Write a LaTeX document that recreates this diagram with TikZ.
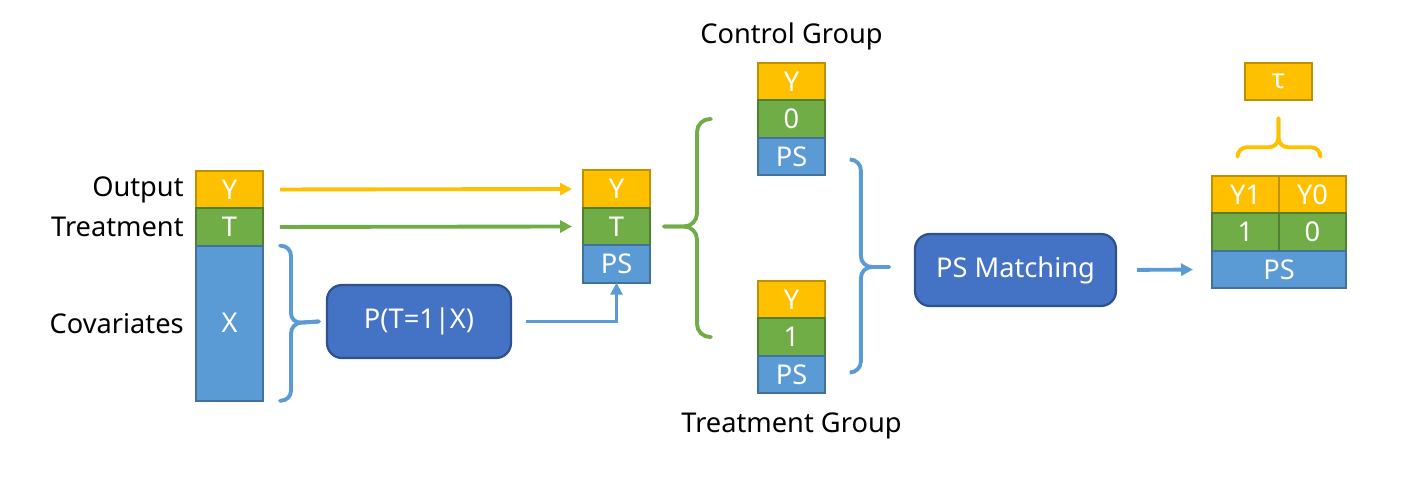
\documentclass[tikz,border=0pt]{standalone}
\usepackage{fontspec}
\setmainfont{Noto Sans}
\usetikzlibrary{arrows.meta, positioning, calc}
\definecolor{cellyellow}{HTML}{FFC000}
\definecolor{edgeyellow}{HTML}{BF9000}
\definecolor{cellgreen}{HTML}{70AD47}
\definecolor{edgegreen}{HTML}{507E32}
\definecolor{cellblue}{HTML}{5B9BD5}
\definecolor{edgeblue}{HTML}{41719C}
\definecolor{boxblue}{HTML}{4472C4}
\definecolor{boxedge}{HTML}{2F528F}

\tikzset{
  cell/.style={draw, line width=1.3pt, outer sep=0pt, inner sep=0pt, minimum width=1.34cm, minimum height=0.75cm, text=white, font=\fontsize{15.5}{18}\selectfont},
  ycell/.style={cell, fill=cellyellow, draw=edgeyellow},
  tcell/.style={cell, fill=cellgreen, draw=edgegreen},
  pcell/.style={cell, fill=cellblue, draw=edgeblue},
  procbox/.style={draw=boxedge, fill=boxblue, line width=1.3pt, rounded corners=0.3cm, inner sep=0pt, text=white, font=\fontsize{15.5}{18}\selectfont},
  sidelabel/.style={font=\fontsize{15.5}{18}\selectfont, inner sep=0pt},
  flow/.style={line width=2.2pt, -{Triangle[length=0.24cm, width=0.24cm]}},
  brace/.style={line width=2.2pt, line cap=round}
}

\begin{document}
\begin{tikzpicture}[x=0.02cm, y=-0.02cm]
  \useasboundingbox (0,0) rectangle (1414,502);

  % input table
  \node[ycell] (inY) at (229.5,189.5) {Y};
  \node[tcell, below=0pt of inY] (inT) {T};
  \node[pcell, below=0pt of inT, minimum height=3.1cm] (inX) {X};
  \node[sidelabel, left=0.24cm of inY] (lbOut) {Output};
  \node[sidelabel, left=0.24cm of inT] (lbTreat) {Treatment};
  \node[sidelabel, left=0.24cm of inX] (lbCov) {Covariates};

  % propensity model
  \node[procbox, minimum width=3.68cm, minimum height=1.46cm] (prop) at (419,321.5) {P(T=1|X)};

  % table with score
  \node[ycell] (midY) at (616.5,189) {Y};
  \node[tcell, below=0pt of midY] (midT) {T};
  \node[pcell, below=0pt of midT] (midPS) {PS};

  % split groups
  \node[ycell] (ctrlY) at (791.5,81.5) {Y};
  \node[tcell, below=0pt of ctrlY] (ctrl0) {0};
  \node[pcell, below=0pt of ctrl0] (ctrlPS) {PS};
  \node[sidelabel, above=0.24cm of ctrlY] (lbCtrl) {Control Group};

  \node[ycell] (trtY) at (791.5,299.5) {Y};
  \node[tcell, below=0pt of trtY] (trt1) {1};
  \node[pcell, below=0pt of trt1] (trtPS) {PS};
  \node[sidelabel, below=0.38cm of trtPS] (lbTrt) {Treatment Group};

  % matching
  \node[procbox, minimum width=4.02cm, minimum height=1.44cm] (match) at (1015.5,270) {PS Matching};

  % result table
  \node[ycell] (resY1) at (1245.5,194.5) {Y1};
  \node[ycell, right=0pt of resY1] (resY0) {Y0};
  \node[tcell, below=0pt of resY1] (res1) {1};
  \node[tcell, below=0pt of resY0] (res0) {0};
  \node[pcell, below=0pt of res1.south east, minimum width=2.68cm] (resPS) {PS};
  \node[ycell] (tau) at (1278.5,81.5) {τ};

  % arrows
  \draw[flow, cellyellow, shorten <=0.34cm, shorten >=0.22cm] (inY.east) -- (midY.west);
  \draw[flow, cellgreen, shorten <=0.34cm, shorten >=0.22cm] (inT.east) -- (midT.west);
  \draw[flow, cellblue, shorten <=0.28cm] (prop.east) -| (midPS.south);
  \draw[flow, cellblue, shorten <=0.4cm, shorten >=0.38cm] (match.east) -- (resPS.west);

  % braces
  \draw[brace, cellblue, rounded corners=0.2cm] ($(inX.north east)+(17,0)$) -| ($(inX.east)+(28,0)$) -- ($(prop.west)+(-7,0)$);
  \draw[brace, cellblue, rounded corners=0.2cm] ($(inX.south east)+(17,0)$) -| ($(inX.east)+(28,0)$) -- ($(prop.west)+(-7,0)$);

  \draw[brace, cellgreen, rounded corners=0.26cm] ($(midT.east)+(14,0)$) -- ($(midT.east)+(47,0)$) |- ($(ctrl0.west)+(-47,0)$);
  \draw[brace, cellgreen, rounded corners=0.26cm] ($(midT.east)+(14,0)$) -- ($(midT.east)+(47,0)$) |- ($(trt1.west)+(-47,0)$);

  \draw[brace, cellblue, rounded corners=0.22cm] ($(ctrlPS.east)+(25,3)$) -| ($(match.west)+(-53,-3)$) -- ($(match.west)+(-25,-3)$);
  \draw[brace, cellblue, rounded corners=0.22cm] ($(trtPS.east)+(25,-2)$) -| ($(match.west)+(-53,-3)$) -- ($(match.west)+(-25,-3)$);

  \draw[brace, cellyellow, rounded corners=0.19cm] ($(resY1.north)+(-8,-19)$) |- ($(tau.south)+(0,47)$) -- ($(tau.south)+(0,18)$);
  \draw[brace, cellyellow, rounded corners=0.19cm] ($(resY0.north)+(8,-19)$) |- ($(tau.south)+(0,47)$) -- ($(tau.south)+(0,18)$);
\end{tikzpicture}
\end{document}
